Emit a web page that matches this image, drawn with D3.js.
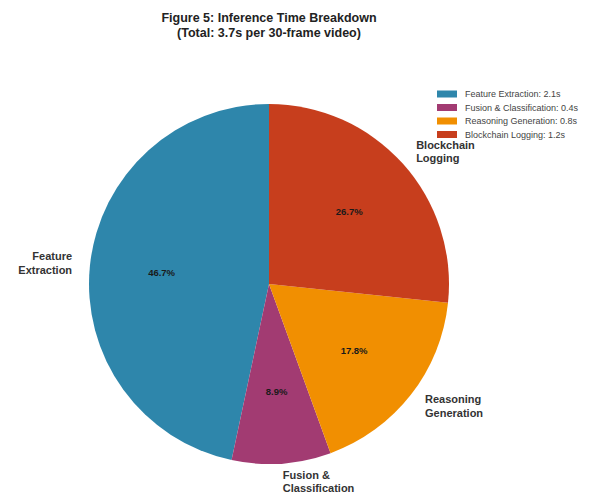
<!DOCTYPE html>
<html><head><meta charset="utf-8">
<script src="https://cdn.jsdelivr.net/npm/d3@7"></script>
<style>body{margin:0;background:#fff}svg{display:block}text{font-family:"Liberation Sans",Arial,sans-serif}</style>
</head><body>
<script>
const categories = ["Feature Extraction", "Fusion & Classification", "Reasoning Generation", "Blockchain Logging"];
const labelLines = [["Feature", "Extraction"], ["Fusion &", "Classification"], ["Reasoning", "Generation"], ["Blockchain", "Logging"]];
const times = [2.1, 0.4, 0.8, 1.2];
const colors = ["#2E86AB", "#A23B72", "#F18F01", "#C73E1D"];
const titleLines = ["Figure 5: Inference Time Breakdown", "(Total: 3.7s per 30-frame video)"];

const W = 596, H = 495;
const cx = 269, cy = 284, R = 180;
const svg = d3.select("body").append("svg").attr("width", W).attr("height", H);

svg.selectAll("text.title").data(titleLines).join("text")
  .attr("class", "title")
  .attr("x", 269).attr("y", (d, i) => 22 + i * 15)
  .attr("text-anchor", "middle").attr("font-size", 12.5).attr("font-weight", "bold").attr("fill", "#222")
  .text(d => d);

const data = categories.map((c, i) => ({c, v: times[i], i}));
const total = d3.sum(times);
const pie = d3.pie().value(d => d.v).sort(null).startAngle(0).endAngle(-2 * Math.PI);
const arcs = pie(data);
const arc = d3.arc().innerRadius(0).outerRadius(R);
const g = svg.append("g").attr("transform", `translate(${cx},${cy})`);
g.selectAll("path").data(arcs).join("path").attr("d", arc).attr("fill", d => colors[d.data.i]);

function pos(d, r) {
  const a = (d.startAngle + d.endAngle) / 2;
  return [r * Math.sin(a), -r * Math.cos(a)];
}
// percentage labels
g.selectAll("text.pct").data(arcs).join("text").attr("class", "pct")
  .attr("x", d => pos(d, R * 0.6)[0]).attr("y", d => pos(d, R * 0.6)[1])
  .attr("dy", "0.35em").attr("text-anchor", "middle")
  .attr("font-size", 9.5).attr("font-weight", "bold").attr("fill", "#1a1a1a")
  .text(d => (d.data.v / total * 100).toFixed(1) + "%");
// outer labels
const lab = g.selectAll("text.lab").data(arcs).join("text").attr("class", "lab")
  .attr("text-anchor", d => pos(d, 1)[0] >= 0 ? "start" : "end")
  .attr("font-size", 11).attr("font-weight", "bold").attr("fill", "#333");
lab.each(function(d) {
  const [x, y] = pos(d, R * 1.1);
  const lines = labelLines[d.data.i];
  d3.select(this).selectAll("tspan").data(lines).join("tspan")
    .attr("x", x).attr("y", (l, k) => y + (k - (lines.length - 1) / 2) * 13.5)
    .attr("dy", "0.35em").text(l => l);
});
// legend
const leg = svg.append("g").attr("transform", "translate(437,94)");
const items = leg.selectAll("g").data(categories).join("g").attr("transform", (d, i) => `translate(0,${i * 13.5})`);
items.append("rect").attr("x", 0).attr("y", -3.5).attr("width", 20).attr("height", 7).attr("fill", (d, i) => colors[i]);
items.append("text").attr("x", 28).attr("dy", "0.35em").attr("font-size", 9).attr("fill", "#444")
  .text((d, i) => `${d}: ${times[i]}s`);
</script>
</body></html>
